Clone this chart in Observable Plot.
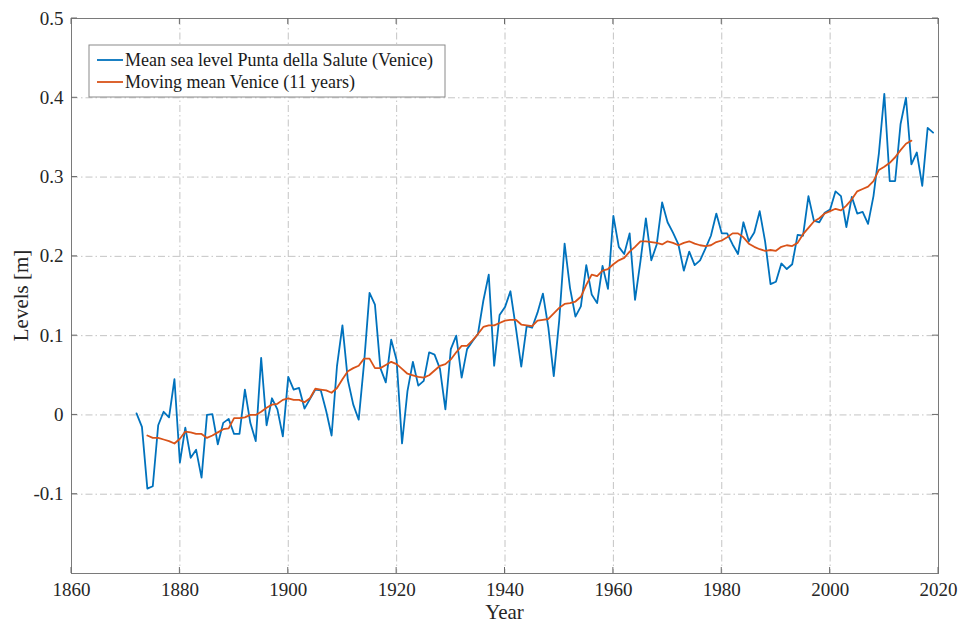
<!DOCTYPE html>
<html>
<head>
<meta charset="utf-8">
<script src="https://cdn.jsdelivr.net/npm/d3@7"></script>
<script src="https://cdn.jsdelivr.net/npm/@observablehq/plot@0.6"></script>
<style>
  html, body { margin: 0; padding: 0; background: #fff; }
  #chart svg { display: block; }
</style>
</head>
<body>
<div id="chart"></div>
<script>
// ---- Data ----
const seaStartYear = 1872;
const seaLevel = [
  0.002, -0.015, -0.093, -0.090, -0.013, 0.004, -0.003, 0.045,           // 1872-1879
  -0.060, -0.016, -0.054, -0.044, -0.079, 0.000, 0.001, -0.037, -0.010, -0.005, // 1880-1889
  -0.024, -0.024, 0.032, -0.010, -0.033, 0.072, -0.013, 0.021, 0.007, -0.027,   // 1890-1899
  0.048, 0.032, 0.034, 0.008, 0.020, 0.032, 0.031, 0.005, -0.026, 0.062,        // 1900-1909
  0.113, 0.044, 0.013, -0.006, 0.066, 0.154, 0.139, 0.059, 0.041, 0.095,        // 1910-1919
  0.069, -0.036, 0.030, 0.067, 0.037, 0.043, 0.079, 0.076, 0.058, 0.007,        // 1920-1929
  0.083, 0.100, 0.047, 0.083, 0.093, 0.102, 0.144, 0.177, 0.062, 0.126,         // 1930-1939
  0.136, 0.156, 0.110, 0.061, 0.112, 0.110, 0.129, 0.153, 0.110, 0.049,         // 1940-1949
  0.119, 0.216, 0.160, 0.124, 0.137, 0.189, 0.152, 0.141, 0.188, 0.159,         // 1950-1959
  0.251, 0.212, 0.203, 0.229, 0.145, 0.194, 0.248, 0.195, 0.215, 0.268,         // 1960-1969
  0.243, 0.230, 0.215, 0.182, 0.206, 0.189, 0.195, 0.210, 0.226, 0.254,         // 1970-1979
  0.229, 0.229, 0.215, 0.203, 0.243, 0.219, 0.230, 0.257, 0.219, 0.165,         // 1980-1989
  0.168, 0.191, 0.184, 0.190, 0.227, 0.226, 0.276, 0.245, 0.243, 0.255,         // 1990-1999
  0.259, 0.282, 0.276, 0.237, 0.275, 0.254, 0.256, 0.241, 0.276, 0.330,         // 2000-2009
  0.405, 0.295, 0.295, 0.367, 0.400, 0.316, 0.331, 0.289, 0.362, 0.356          // 2010-2019
];

const meanStartYear = 1874;
const movingMean = [
  -0.026, -0.029, -0.029, -0.031, -0.033, -0.036,                               // 1874-1879
  -0.030, -0.021, -0.022, -0.024, -0.024, -0.029, -0.026, -0.022, -0.018, -0.017, // 1880-1889
  -0.004, -0.004, -0.003, 0.000, 0.000, 0.004, 0.009, 0.013, 0.014, 0.019,      // 1890-1899
  0.021, 0.019, 0.019, 0.016, 0.021, 0.033, 0.032, 0.031, 0.028, 0.034,         // 1900-1909
  0.045, 0.055, 0.059, 0.062, 0.071, 0.071, 0.059, 0.059, 0.063, 0.067,         // 1910-1919
  0.064, 0.058, 0.052, 0.050, 0.048, 0.047, 0.050, 0.056, 0.062, 0.064,         // 1920-1929
  0.070, 0.079, 0.087, 0.087, 0.094, 0.102, 0.111, 0.113, 0.113, 0.116,         // 1930-1939
  0.119, 0.120, 0.120, 0.114, 0.113, 0.112, 0.119, 0.120, 0.121, 0.128,         // 1940-1949
  0.135, 0.140, 0.141, 0.143, 0.149, 0.164, 0.177, 0.175, 0.182, 0.184,         // 1950-1959
  0.190, 0.195, 0.198, 0.206, 0.212, 0.219, 0.219, 0.218, 0.217, 0.215,         // 1960-1969
  0.219, 0.217, 0.214, 0.217, 0.219, 0.216, 0.214, 0.213, 0.214, 0.218,         // 1970-1979
  0.220, 0.224, 0.229, 0.229, 0.224, 0.216, 0.212, 0.209, 0.207, 0.208,         // 1980-1989
  0.207, 0.212, 0.214, 0.213, 0.217, 0.228, 0.236, 0.244, 0.248, 0.254,         // 1990-1999
  0.257, 0.260, 0.258, 0.264, 0.272, 0.282, 0.285, 0.288, 0.295, 0.309,         // 2000-2009
  0.313, 0.318, 0.325, 0.334, 0.342, 0.346                                      // 2010-2015
];

const xTicks = [1860, 1880, 1900, 1920, 1940, 1960, 1980, 2000, 2020];
const yTicks = [-0.1, 0, 0.1, 0.2, 0.3, 0.4, 0.5];
const xDomain = [1860, 2020];
const yDomain = [-0.2, 0.5];

const seriesNames = ["Mean sea level Punta della Salute (Venice)", "Moving mean Venice (11 years)"];
const seriesColors = ["#0072BD", "#D95319"];
const xLabel = "Year";
const yLabel = "Levels [m]";

// ---- Chart ----
const W = 959, H = 626;
const mL = 71, mR = 21, mT = 18, mB = 53;
const FONT = "'Liberation Serif', 'Times New Roman', serif";

const seaRows = seaLevel.map((v, i) => ({year: seaStartYear + i, value: v}));
const meanRows = movingMean.map((v, i) => ({year: meanStartYear + i, value: v}));

const fmtY = d => d === 0 ? "0" : (d < 0 ? "-" : "") + Math.abs(d).toFixed(1);

const chart = Plot.plot({
  width: W,
  height: H,
  marginLeft: mL,
  marginRight: mR,
  marginTop: mT,
  marginBottom: mB,
  style: {fontFamily: FONT, fontSize: "19px", color: "#262626", background: "#fff"},
  x: {domain: xDomain, label: null},
  y: {domain: yDomain, label: null},
  marks: [
    Plot.gridX(xTicks, {stroke: "#b5b5b5", strokeOpacity: 1, strokeWidth: 0.8, strokeDasharray: "7,3,1.5,3"}),
    Plot.gridY(yTicks, {stroke: "#b5b5b5", strokeOpacity: 1, strokeWidth: 0.8, strokeDasharray: "7,3,1.5,3"}),
    Plot.axisX(xTicks, {tickSize: 0, tickPadding: 9, tickFormat: d => String(d), fill: "#262626", fontSize: 19, fontFamily: FONT}),
    Plot.axisY(yTicks, {tickSize: 0, tickPadding: 8, tickFormat: fmtY, fill: "#262626", fontSize: 19, fontFamily: FONT}),
    Plot.line(seaRows, {x: "year", y: "value", stroke: seriesColors[0], strokeWidth: 1.8}),
    Plot.line(meanRows, {x: "year", y: "value", stroke: seriesColors[1], strokeWidth: 1.8}),
    Plot.frame({stroke: "#7a7a7a", strokeWidth: 1})
  ]
});

document.getElementById("chart").appendChild(chart);

// ---- Inward tick marks (MATLAB box style), axis titles and legend ----
const svg = d3.select(chart);
const sx = chart.scale("x"), sy = chart.scale("y");
const x0 = mL, x1 = W - mR, y0 = mT, y1 = H - mB, tl = 6;
const tg = svg.append("g").attr("stroke", "#6a6a6a").attr("stroke-width", 1);
xTicks.forEach(t => {
  const px = sx.apply(t);
  tg.append("line").attr("x1", px).attr("x2", px).attr("y1", y1).attr("y2", y1 - tl);
  tg.append("line").attr("x1", px).attr("x2", px).attr("y1", y0).attr("y2", y0 + tl);
});
yTicks.forEach(t => {
  const py = sy.apply(t);
  tg.append("line").attr("x1", x0).attr("x2", x0 + tl).attr("y1", py).attr("y2", py);
  tg.append("line").attr("x1", x1).attr("x2", x1 - tl).attr("y1", py).attr("y2", py);
});

svg.append("text")
  .attr("x", mL + (W - mL - mR) / 2)
  .attr("y", H - 7)
  .attr("text-anchor", "middle")
  .attr("font-family", FONT)
  .attr("font-size", 21)
  .attr("fill", "#262626")
  .text(xLabel);
svg.append("text")
  .attr("transform", `translate(28,${mT + (H - mT - mB) / 2}) rotate(-90)`)
  .attr("text-anchor", "middle")
  .attr("font-family", FONT)
  .attr("font-size", 21)
  .attr("fill", "#262626")
  .text(yLabel);

const lg = svg.append("g").attr("transform", "translate(89,45)");
lg.append("rect")
  .attr("width", 356).attr("height", 52)
  .attr("fill", "#fff").attr("stroke", "#8a8a8a").attr("stroke-width", 1);
seriesNames.forEach((name, i) => {
  const cy = 15 + i * 22;
  lg.append("line")
    .attr("x1", 8).attr("x2", 34).attr("y1", cy).attr("y2", cy)
    .attr("stroke", seriesColors[i]).attr("stroke-width", 1.8);
  lg.append("text")
    .attr("x", 36).attr("y", cy)
    .attr("dy", "0.35em")
    .attr("text-anchor", "start")
    .attr("font-family", FONT)
    .attr("font-size", 18)
    .attr("fill", "#1a1a1a")
    .text(name);
});
</script>
</body>
</html>
